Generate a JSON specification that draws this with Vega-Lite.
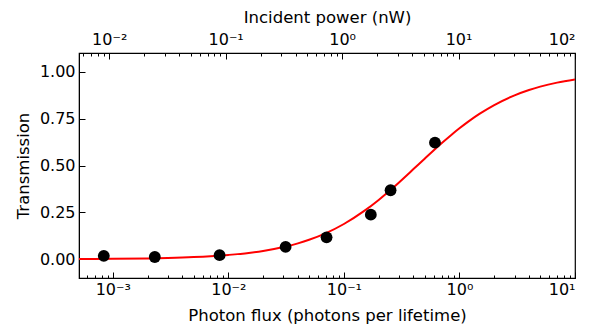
{
  "$schema": "https://vega.github.io/schema/vega-lite/v6.json",
  "width": 496,
  "height": 225,
  "autosize": {"type": "none"},
  "padding": {"left": 79, "top": 53, "right": 15, "bottom": 50},
  "background": "white",
  "config": {
    "font": "DejaVu Sans",
    "view": {"stroke": "black", "strokeWidth": 1.2},
    "axis": {
      "grid": false,
      "domainColor": "black",
      "tickColor": "black",
      "labelColor": "black",
      "titleColor": "black",
      "labelFont": "DejaVu Sans",
      "titleFont": "DejaVu Sans",
      "labelFontSize": 16,
      "titleFontSize": 16.5,
      "titleFontWeight": "normal",
      "labelOverlap": false
    }
  },
  "datasets": {
    "points": [
      {"flux": 0.000836, "T": 0.018},
      {"flux": 0.00231, "T": 0.012},
      {"flux": 0.0084, "T": 0.022},
      {"flux": 0.0313, "T": 0.066},
      {"flux": 0.0708, "T": 0.117},
      {"flux": 0.171, "T": 0.238},
      {"flux": 0.2535, "T": 0.368},
      {"flux": 0.614, "T": 0.622}
    ],
    "curve": [
      {"flux": 0.00051, "T": 0.0012},
      {"flux": 0.001, "T": 0.0023},
      {"flux": 0.002, "T": 0.0046},
      {"flux": 0.003, "T": 0.0069},
      {"flux": 0.005, "T": 0.0114},
      {"flux": 0.007, "T": 0.0160},
      {"flux": 0.01, "T": 0.0231},
      {"flux": 0.015, "T": 0.0336},
      {"flux": 0.02, "T": 0.0443},
      {"flux": 0.03, "T": 0.0649},
      {"flux": 0.04, "T": 0.0848},
      {"flux": 0.05, "T": 0.1037},
      {"flux": 0.07, "T": 0.1394},
      {"flux": 0.1, "T": 0.1880},
      {"flux": 0.15, "T": 0.2577},
      {"flux": 0.2, "T": 0.3165},
      {"flux": 0.25, "T": 0.3666},
      {"flux": 0.3, "T": 0.4098},
      {"flux": 0.4, "T": 0.4808},
      {"flux": 0.5, "T": 0.5365},
      {"flux": 0.6, "T": 0.5814},
      {"flux": 0.7, "T": 0.6184},
      {"flux": 0.85, "T": 0.6630},
      {"flux": 1, "T": 0.6983},
      {"flux": 1.2, "T": 0.7353},
      {"flux": 1.5, "T": 0.7764},
      {"flux": 2, "T": 0.8224},
      {"flux": 3, "T": 0.8741},
      {"flux": 4, "T": 0.9025},
      {"flux": 5, "T": 0.9205},
      {"flux": 7, "T": 0.9419},
      {"flux": 10, "T": 0.9586}
    ],
    "power": [
      {"power": 0.0055},
      {"power": 100}
    ]
  },
  "layer": [
    {
      "layer": [
        {
          "data": {"name": "curve"},
          "mark": {"type": "line", "color": "#ff0000", "strokeWidth": 2, "clip": true, "interpolate": "monotone"},
          "encoding": {
            "x": {"field": "flux", "type": "quantitative"},
            "y": {"field": "T", "type": "quantitative"}
          }
        },
        {
          "data": {"name": "points"},
          "mark": {"type": "circle", "color": "black", "opacity": 1, "size": 140},
          "encoding": {
            "x": {"field": "flux", "type": "quantitative"},
            "y": {"field": "T", "type": "quantitative"}
          }
        }
      ],
      "encoding": {
        "x": {
          "field": "flux",
          "type": "quantitative",
          "scale": {"type": "log", "domain": [0.00051, 10], "nice": false},
          "axis": {
            "orient": "bottom",
            "title": "Photon flux (photons per lifetime)",
            "values": [0.0006, 0.0007, 0.0008, 0.0009, 0.001, 0.002, 0.003, 0.004, 0.005, 0.006, 0.007, 0.008, 0.009, 0.01, 0.02, 0.03, 0.04, 0.05, 0.06, 0.07, 0.08, 0.09, 0.1, 0.2, 0.3, 0.4, 0.5, 0.6, 0.7, 0.8, 0.9, 1, 2, 3, 4, 5, 6, 7, 8, 9, 10],
            "labelExpr": "datum.value == 0.001 ? '10⁻³' : datum.value == 0.01 ? '10⁻²' : datum.value == 0.1 ? '10⁻¹' : datum.value == 1 ? '10⁰' : datum.value == 10 ? '10¹' : ''",
            "tickSize": {"condition": {"test": "indexof([0.001,0.01,0.1,1,10], datum.value) >= 0", "value": -6}, "value": -3},
            "labelPadding": 9,
            "titlePadding": 7
          }
        },
        "y": {
          "field": "T",
          "type": "quantitative",
          "scale": {"domain": [-0.1, 1.1], "nice": false, "zero": false},
          "axis": {
            "title": "Transmission",
            "values": [0, 0.25, 0.5, 0.75, 1],
            "format": ".2f",
            "tickSize": -6,
            "labelPadding": 10,
            "titlePadding": 8
          }
        }
      }
    },
    {
      "data": {"name": "power"},
      "mark": {"type": "point", "opacity": 0},
      "encoding": {
        "x": {
          "field": "power",
          "type": "quantitative",
          "scale": {"type": "log", "domain": [0.0055, 100], "nice": false},
          "axis": {
            "orient": "top",
            "title": "Incident power (nW)",
            "values": [0.006, 0.007, 0.008, 0.009, 0.01, 0.02, 0.03, 0.04, 0.05, 0.06, 0.07, 0.08, 0.09, 0.1, 0.2, 0.3, 0.4, 0.5, 0.6, 0.7, 0.8, 0.9, 1, 2, 3, 4, 5, 6, 7, 8, 9, 10, 20, 30, 40, 50, 60, 70, 80, 90, 100],
            "labelExpr": "datum.value == 0.01 ? '10⁻²' : datum.value == 0.1 ? '10⁻¹' : datum.value == 1 ? '10⁰' : datum.value == 10 ? '10¹' : datum.value == 100 ? '10²' : ''",
            "tickSize": {"condition": {"test": "indexof([0.01,0.1,1,10,100], datum.value) >= 0", "value": -6}, "value": -3},
            "labelPadding": 12,
            "titlePadding": 3
          }
        }
      }
    }
  ],
  "resolve": {"scale": {"x": "independent"}, "axis": {"x": "independent"}}
}
